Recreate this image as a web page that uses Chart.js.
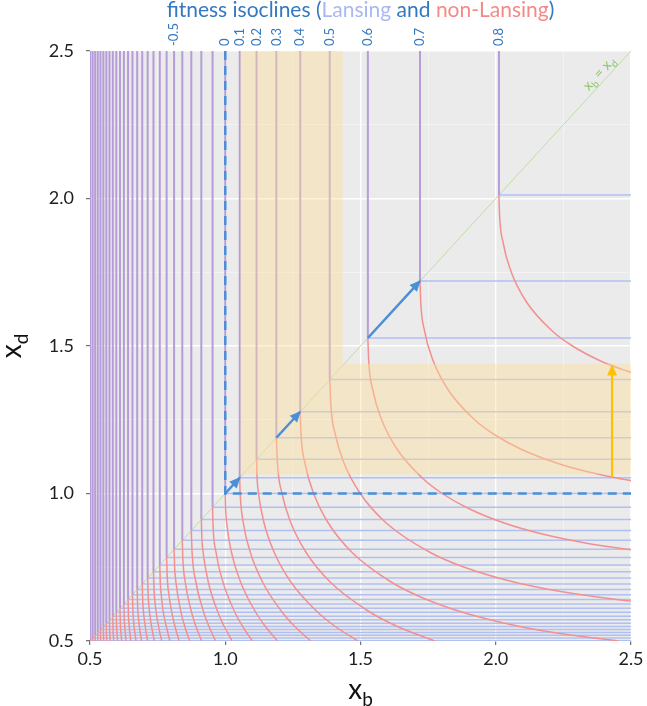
<!DOCTYPE html>
<html>
<head>
<meta charset="utf-8">
<script src="https://cdn.jsdelivr.net/npm/chart.js@4.4.1/dist/chart.umd.min.js"></script>
<style>
  html, body { margin: 0; padding: 0; background: #fff; }
  canvas { display: block; }
</style>
</head>
<body>
<canvas id="isoclines" width="647" height="706"></canvas>
<script>
// fitness level of each isocline and where it meets the x_b = x_d diagonal
const fitnessLevels = [-2.5,-2.4,-2.3,-2.2,-2.1,-2.0,-1.9,-1.8,-1.7,-1.6,-1.5,-1.4,-1.3,-1.2,-1.1,-1.0,-0.9,-0.8,-0.7,-0.6,-0.5,-0.4,-0.3,-0.2,-0.1,0,0.1,0.2,0.3,0.4,0.5,0.6,0.7,0.8];
const diagonalX = [0.5011,0.5099,0.5191,0.5287,0.5388,0.5493,0.5604,0.5720,0.5843,0.5972,0.6109,0.6253,0.6407,0.6570,0.6745,0.6931,0.7132,0.7347,0.7580,0.7833,0.8109,0.8412,0.8745,0.9116,0.9531,1.0000,1.0536,1.1157,1.1889,1.2771,1.3863,1.5272,1.7200,2.0118];
const topLabelLevels = [-0.5, 0, 0.1, 0.2, 0.3, 0.4, 0.5, 0.6, 0.7, 0.8];

// non-Lansing isoclines below the diagonal (x_b, x_d), one row per level
const curveXb = [
  [0.5011,0.5011],
  [0.5099,0.5100],
  [0.5191,0.5193],
  [0.5287,0.5291],
  [0.5388,0.5389,0.5395],
  [0.5493,0.5496,0.5505],
  [0.5604,0.5608,0.5622],
  [0.5720,0.5727,0.5746],
  [0.5843,0.5852,0.5878],
  [0.5972,0.5983,0.5998,0.6020],
  [0.6109,0.6122,0.6142,0.6171],
  [0.6253,0.6266,0.6295,0.6334],
  [0.6407,0.6420,0.6454,0.6509],
  [0.6570,0.6587,0.6629,0.6699],
  [0.6745,0.6759,0.6801,0.6846,0.6906],
  [0.6931,0.6946,0.6987,0.7055,0.7131],
  [0.7132,0.7147,0.7187,0.7256,0.7378],
  [0.7347,0.7363,0.7405,0.7475,0.7553,0.7652],
  [0.7580,0.7598,0.7642,0.7705,0.7819,0.7955],
  [0.7833,0.7854,0.7928,0.8018,0.8139,0.8296],
  [0.8109,0.8129,0.8175,0.8358,0.8502,0.8683],
  [0.8412,0.8432,0.8520,0.8747,0.8915,0.9127],
  [0.8745,0.8774,0.8915,0.9194,0.9395,0.9644],
  [0.9116,0.9135,0.9182,0.9374,0.9716,0.9959,1.0255],
  [0.9531,0.9545,0.9661,0.9914,1.0341,1.0639,1.0999],
  [1.0000,1.0013,1.0054,1.0231,1.0567,1.1108,1.1478,1.1931],
  [1.0536,1.0540,1.0551,1.0669,1.0929,1.1378,1.2082,1.2563,1.3159],
  [1.1157,1.1179,1.1230,1.1435,1.1813,1.2425,1.3389,1.4056,1.4898],
  [1.1889,1.1931,1.2098,1.2429,1.2991,1.3879,1.5310,1.6345,1.7738],
  [1.2771,1.2802,1.2954,1.3269,1.3809,1.4689,1.6131,1.7202,1.8678,2.0839,2.2764,2.4529],
  [1.3863,1.3903,1.4069,1.4405,1.4990,1.5951,1.7578,1.8841,2.0669,2.2918,2.4555,2.5049],
  [1.5272,1.5303,1.5457,1.5782,1.6353,1.7314,1.8023,1.8978,2.0311,2.1836,2.3456,2.4948,2.5120],
  [1.7200,1.7226,1.7371,1.7686,1.8251,1.9218,1.9944,2.0938,2.2359,2.3562,2.4608,2.5235],
  [2.0118,2.0138,2.0273,2.0576,2.1131,2.2097,2.2837,2.3859,2.4689,2.5012]
];
const curveXd = [
  [0.5011,0.5],
  [0.5099,0.5],
  [0.5191,0.5],
  [0.5287,0.5],
  [0.5388,0.52,0.5],
  [0.5493,0.525,0.5],
  [0.5604,0.53,0.5],
  [0.5720,0.535,0.5],
  [0.5843,0.54,0.5],
  [0.5972,0.55,0.525,0.5],
  [0.6109,0.56,0.53,0.5],
  [0.6253,0.575,0.535,0.5],
  [0.6407,0.59,0.545,0.5],
  [0.6570,0.60,0.55,0.5],
  [0.6745,0.62,0.57,0.535,0.5],
  [0.6931,0.64,0.59,0.54,0.5],
  [0.7132,0.66,0.61,0.56,0.5],
  [0.7347,0.68,0.63,0.58,0.54,0.5],
  [0.7580,0.70,0.65,0.60,0.55,0.5],
  [0.7833,0.72,0.65,0.60,0.55,0.5],
  [0.8109,0.75,0.70,0.60,0.55,0.5],
  [0.8412,0.78,0.70,0.60,0.55,0.5],
  [0.8745,0.80,0.70,0.60,0.55,0.5],
  [0.9116,0.85,0.80,0.70,0.60,0.55,0.5],
  [0.9531,0.90,0.80,0.70,0.60,0.55,0.5],
  [1.0000,0.95,0.90,0.80,0.70,0.60,0.55,0.5],
  [1.0536,1.03,1.00,0.90,0.80,0.70,0.60,0.55,0.5],
  [1.1157,1.05,1.00,0.90,0.80,0.70,0.60,0.55,0.5],
  [1.1889,1.10,1.00,0.90,0.80,0.70,0.60,0.55,0.5],
  [1.2771,1.20,1.10,1.00,0.90,0.80,0.70,0.65,0.60,0.55,0.52,0.50],
  [1.3863,1.30,1.20,1.10,1.00,0.90,0.80,0.75,0.70,0.66,0.64,0.635],
  [1.5272,1.45,1.35,1.25,1.15,1.05,1.00,0.95,0.90,0.86,0.83,0.81,0.808],
  [1.7200,1.65,1.55,1.45,1.35,1.25,1.20,1.15,1.10,1.07,1.05,1.04],
  [2.0118,1.95,1.85,1.75,1.65,1.55,1.50,1.45,1.42,1.41]
];

// blue steps along the diagonal, the yellow gap arrow and the shaded band
const stepFrom = [1.0, 1.1889, 1.5272];
const stepTo = [1.0536, 1.2771, 1.7200];
const gapX = 2.43;
const gapY = [1.056, 1.434];
const bandX = [1.056, 1.434];
const bandY = [1.065, 1.44];

const PURPLE = '#B69CD8';
const LANSING = '#B0C0F2';
const NONLANSING = '#F29090';
const ARROW = '#4A8FD8';
const FONT = 'Lato, "Open Sans", sans-serif';

function seg(points, color, width, order, extra) {
  return Object.assign({
    data: points, showLine: true, borderColor: color, borderWidth: width,
    pointRadius: 0, pointHoverRadius: 0, fill: false, clip: 0, order: order
  }, extra || {});
}

const datasets = [];
datasets.push(seg([{x: 0.5, y: 0.5}, {x: 2.5, y: 2.5}], '#BEDDA6', 1, 7));
diagonalX.forEach((c, i) => {
  datasets.push(seg([{x: c, y: c}, {x: 2.5, y: c}], LANSING, 1.5, 6));
  const pts = curveXb[i].map((xb, j) => ({x: xb, y: curveXd[i][j]}));
  datasets.push(seg(pts, NONLANSING, 1.5, 5, {cubicInterpolationMode: 'monotone'}));
  datasets.push(seg([{x: c, y: c}, {x: c, y: 2.5}], PURPLE, 2, 4));
});
const c0 = diagonalX[fitnessLevels.indexOf(0)];
datasets.push(seg([{x: c0, y: 2.5}, {x: c0, y: c0}, {x: 2.5, y: c0}], ARROW, 2.5, 1, {borderDash: [9, 6], onTop: true}));
stepFrom.forEach((a, i) => {
  datasets.push(seg([{x: a, y: a}, {x: stepTo[i], y: stepTo[i]}], ARROW, 2.5, 0, {onTop: true, arrow: true}));
});
datasets.push(seg([{x: gapX, y: gapY[0]}, {x: gapX, y: gapY[1]}], '#FFC000', 2.2, 0, {onTop: true, arrow: true}));

function drawPieces(ctx, pieces, size, cx, baseY) {
  const fontFor = sub => (sub ? Math.round(size * 0.68) : size) + 'px ' + FONT;
  const widths = pieces.map(p => { ctx.font = fontFor(p.sub); return ctx.measureText(p.t).width; });
  let x = cx - widths.reduce((a, b) => a + b, 0) / 2;
  ctx.textAlign = 'left';
  ctx.textBaseline = 'alphabetic';
  pieces.forEach((p, k) => {
    ctx.font = fontFor(p.sub);
    ctx.fillStyle = p.c;
    ctx.fillText(p.t, x, baseY + (p.sub ? size * 0.26 : 0));
    x += widths[k];
  });
}

const decorations = {
  id: 'decorations',
  beforeDraw(chart) {
    const {ctx, chartArea: a} = chart;
    ctx.save();
    ctx.fillStyle = '#EBEBEB';
    ctx.fillRect(a.left, a.top, a.right - a.left, a.bottom - a.top);
    ctx.restore();
    chart.$bandDrawn = false;
  },
  beforeDatasetDraw(chart, args) {
    if (chart.$bandDrawn || !chart.data.datasets[args.index].onTop) return;
    chart.$bandDrawn = true;
    const {ctx, scales: {x, y}} = chart;
    const x0 = x.getPixelForValue(bandX[0]), x1 = x.getPixelForValue(bandX[1]), xr = x.getPixelForValue(2.5);
    const y0 = y.getPixelForValue(bandY[0]), y1 = y.getPixelForValue(bandY[1]), yt = y.getPixelForValue(2.5);
    ctx.save();
    ctx.fillStyle = 'rgba(255, 221, 150, 0.42)';
    ctx.beginPath();
    ctx.moveTo(x0, yt); ctx.lineTo(x1, yt); ctx.lineTo(x1, y1);
    ctx.lineTo(xr, y1); ctx.lineTo(xr, y0); ctx.lineTo(x0, y0);
    ctx.closePath();
    ctx.fill();
    ctx.restore();
  },
  afterDatasetsDraw(chart) {
    const ctx = chart.ctx;
    chart.data.datasets.forEach((ds, i) => {
      if (!ds.arrow) return;
      const pts = chart.getDatasetMeta(i).data;
      const p0 = pts[0], p1 = pts[pts.length - 1];
      const ang = Math.atan2(p1.y - p0.y, p1.x - p0.x);
      ctx.save();
      ctx.fillStyle = ds.borderColor;
      ctx.translate(p1.x, p1.y);
      ctx.rotate(ang);
      ctx.beginPath();
      ctx.moveTo(1, 0); ctx.lineTo(-10, -5); ctx.lineTo(-10, 5);
      ctx.closePath();
      ctx.fill();
      ctx.restore();
    });
    // x_b = x_d along the diagonal
    const {x, y} = chart.scales;
    const ang = Math.atan2(y.getPixelForValue(2.5) - y.getPixelForValue(0.5), x.getPixelForValue(2.5) - x.getPixelForValue(0.5));
    ctx.save();
    ctx.translate(x.getPixelForValue(2.405), y.getPixelForValue(2.405));
    ctx.rotate(ang);
    drawPieces(ctx, [{t: 'x', c: '#8CC96A'}, {t: 'b', sub: 1, c: '#8CC96A'}, {t: ' = x', c: '#8CC96A'}, {t: 'd', sub: 1, c: '#8CC96A'}], 14, 0, -4);
    ctx.restore();
  },
  afterDraw(chart) {
    const {ctx, chartArea: a, scales: {x}} = chart;
    const cx = (a.left + a.right) / 2, cy = (a.top + a.bottom) / 2;
    ctx.save();
    // title
    const blue = '#3478C0';
    drawPieces(ctx, [
      {t: 'fitness isoclines (', c: blue}, {t: 'Lansing', c: '#A9B8F2'},
      {t: ' and ', c: blue}, {t: 'non-Lansing', c: '#F48A86'}, {t: ')', c: blue}
    ], 21, cx, 17);
    // fitness labels above the plot
    ctx.font = '13px ' + FONT;
    ctx.fillStyle = blue;
    topLabelLevels.forEach(lv => {
      const px = x.getPixelForValue(diagonalX[fitnessLevels.indexOf(lv)]);
      ctx.save();
      ctx.translate(px, a.top - 5);
      ctx.rotate(-Math.PI / 2);
      ctx.textAlign = 'left';
      ctx.textBaseline = 'middle';
      ctx.fillText(String(lv), 0, 0);
      ctx.restore();
    });
    // axis titles
    drawPieces(ctx, [{t: 'x', c: '#111'}, {t: 'b', sub: 1, c: '#111'}], 28, cx, 699);
    ctx.translate(21, cy);
    ctx.rotate(-Math.PI / 2);
    drawPieces(ctx, [{t: 'x', c: '#111'}, {t: 'd', sub: 1, c: '#111'}], 28, 0, 0);
    ctx.restore();
  }
};

const isMajor = v => Math.abs(v * 2 - Math.round(v * 2)) < 1e-6;
function axis(extra) {
  return Object.assign({
    type: 'linear', min: 0.5, max: 2.5,
    ticks: {
      stepSize: 0.25, autoSkip: false, maxRotation: 0, color: '#1f1f1f',
      font: {family: FONT, size: 18},
      callback: v => isMajor(v) ? v.toFixed(1) : ''
    },
    grid: {
      color: c => isMajor(c.tick.value) ? '#FFFFFF' : 'rgba(255,255,255,0.6)',
      lineWidth: c => isMajor(c.tick.value) ? 1.4 : 0.7,
      tickLength: 4, tickWidth: 1,
      tickColor: c => isMajor(c.tick.value) ? '#555' : 'rgba(0,0,0,0)'
    },
    border: {display: false}
  }, extra);
}

const xAxis = axis({afterFit: s => { s.height = 65; }});
xAxis.ticks.padding = 3;
const yAxis = axis({afterFit: s => { s.width = 90; }});
yAxis.ticks.padding = 12;

new Chart(document.getElementById('isoclines'), {
  type: 'scatter',
  data: {datasets},
  options: {
    responsive: false,
    animation: false,
    events: [],
    layout: {padding: {top: 51, right: 16, left: 0, bottom: 0}},
    plugins: {legend: {display: false}, tooltip: {enabled: false}},
    scales: {x: xAxis, y: yAxis}
  },
  plugins: [decorations]
});
</script>
</body>
</html>
